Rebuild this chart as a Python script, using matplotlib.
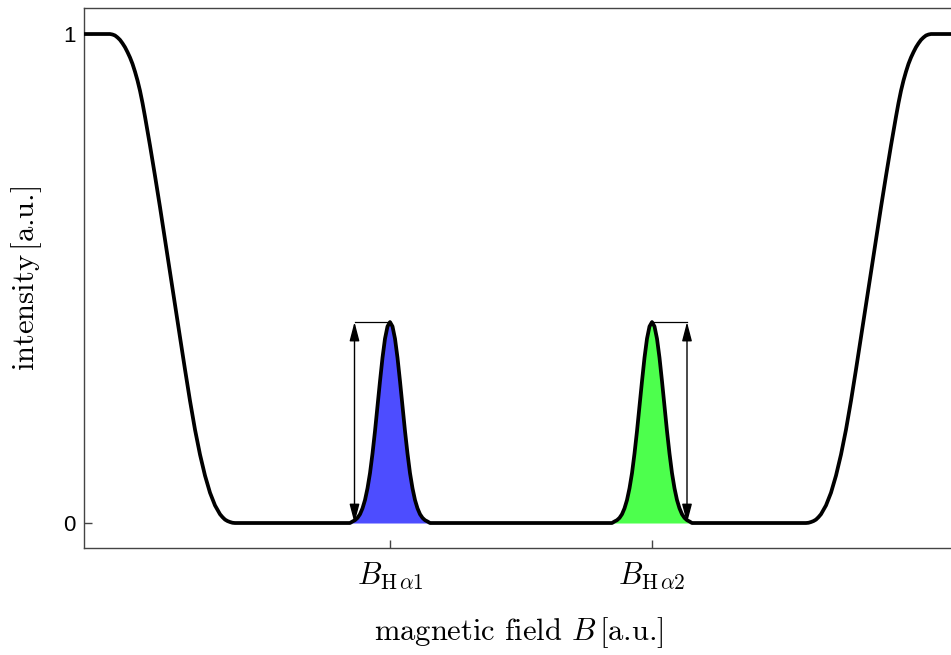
import matplotlib
matplotlib.use("Agg")
import matplotlib.pyplot as plt
import numpy as np

plt.rcParams['mathtext.fontset'] = 'cm'

# ---- data (magnetic field B in a.u., intensity in a.u.) ----
left_B = [0.0, 2.6, 2.85, 3.1, 3.35, 3.6, 3.85, 4.1, 4.35, 4.6, 4.85, 5.1, 5.35, 5.6,
          5.85, 6.1, 6.6, 7.1, 7.6, 8.1, 8.6, 9.1, 9.6, 10.1, 10.6, 11.1, 11.6,
          12.1, 12.6, 13.1, 13.6, 13.85, 14.1, 14.35, 14.6, 14.85, 15.1]
left_I = [1.0, 1.0, 0.999, 0.997, 0.993, 0.988, 0.981, 0.973, 0.963, 0.952, 0.939,
          0.923, 0.905, 0.884, 0.859, 0.831, 0.772, 0.710, 0.646, 0.580, 0.513,
          0.446, 0.380, 0.314, 0.250, 0.191, 0.140, 0.097, 0.062, 0.036, 0.018,
          0.012, 0.007, 0.004, 0.002, 0.0005, 0.0]

right_B = [72.2, 72.45, 72.7, 72.95, 73.2, 73.45, 73.7, 74.2, 74.7, 75.2, 75.7,
           76.2, 76.7, 77.2, 77.7, 78.2, 78.7, 79.2, 79.7, 80.2, 80.7, 81.2, 81.45,
           81.7, 81.95, 82.2, 82.45, 82.7, 82.95, 83.2, 83.45, 83.7, 83.95, 84.2,
           84.45, 84.7, 87.0]
right_I = [0.0, 0.0005, 0.002, 0.004, 0.007, 0.012, 0.018, 0.036, 0.062, 0.097,
           0.140, 0.191, 0.250, 0.314, 0.380, 0.446, 0.513, 0.580, 0.646, 0.710,
           0.772, 0.831, 0.859, 0.884, 0.905, 0.923, 0.939, 0.952, 0.963, 0.973,
           0.981, 0.988, 0.993, 0.997, 0.999, 1.0, 1.0]

peak_offsets = [-4.0, -3.75, -3.5, -3.25, -3.0, -2.75, -2.5, -2.25, -2.0, -1.75,
                -1.5, -1.25, -1.0, -0.75, -0.5, -0.25, 0.0, 0.25, 0.5, 0.75, 1.0,
                1.25, 1.5, 1.75, 2.0, 2.25, 2.5, 2.75, 3.0, 3.25, 3.5, 3.75, 4.0]
peak_profile = [0.0, 0.0031, 0.0058, 0.0105, 0.018, 0.030, 0.047, 0.071, 0.102,
                0.142, 0.188, 0.239, 0.290, 0.338, 0.377, 0.402, 0.411, 0.402,
                0.377, 0.338, 0.290, 0.239, 0.188, 0.142, 0.102, 0.071, 0.047,
                0.030, 0.018, 0.0105, 0.0058, 0.0031, 0.0]
peak_centers = [30.6, 56.8]
peak_colors = [(0.3, 0.3, 1.0), (0.3, 1.0, 0.3)]
peak_labels = [r'$B_{\mathrm{H}\,\alpha 1}$', r'$B_{\mathrm{H}\,\alpha 2}$']
arrow_B = [27.05, 60.3]
peak_height = max(peak_profile)

ytick_vals = [0, 1]
ytick_labels = ['0', '1']

# ---- figure ----
fig = plt.figure(figsize=(9.51, 6.55), dpi=100)
ax = fig.add_axes([84 / 951, 1 - 548 / 655, 870 / 951, 540 / 655])

curve_B = list(left_B)
curve_I = list(left_I)
for c in peak_centers:
    curve_B += [c + o for o in peak_offsets]
    curve_I += list(peak_profile)
curve_B += right_B
curve_I += right_I

for c, col in zip(peak_centers, peak_colors):
    pb = [c + o for o in peak_offsets]
    ax.fill_between(pb, 0, peak_profile, color=col, lw=0, zorder=1)

ax.plot(curve_B, curve_I, color='black', lw=2.7, solid_capstyle='butt',
        solid_joinstyle='round', zorder=3)

for c, xa in zip(peak_centers, arrow_B):
    ax.plot([xa, c], [peak_height, peak_height], color='black', lw=0.9, zorder=2)
    ax.annotate('', xy=(xa, peak_height), xytext=(xa, 0),
                arrowprops=dict(arrowstyle='<|-|>,head_length=1.15,head_width=0.3',
                                mutation_scale=10, color='black', lw=1.0,
                                shrinkA=0, shrinkB=0), zorder=2)

ax.set_xlim(0, 87.0)
ax.set_ylim(-0.0511, 1.0532)

ax.set_xticks(peak_centers)
ax.set_xticklabels(peak_labels, fontsize=22)
ax.set_yticks(ytick_vals)
ax.set_yticklabels(ytick_labels, fontsize=16, family='Liberation Sans')

ax.tick_params(axis='both', direction='in', length=6, width=1.0, color='#444444')
ax.tick_params(axis='x', pad=9)
ax.tick_params(axis='y', pad=6)

for s in ax.spines.values():
    s.set_color('#444444')
    s.set_linewidth(1.0)

ax.set_xlabel(r'magnetic field $B\,$[a.u.]', fontsize=22, family='cmr10', labelpad=17)
ax.set_ylabel(r'intensity$\,$[a.u.]', fontsize=22, family='cmr10', labelpad=14)

fig.savefig('out.png', dpi=100)
